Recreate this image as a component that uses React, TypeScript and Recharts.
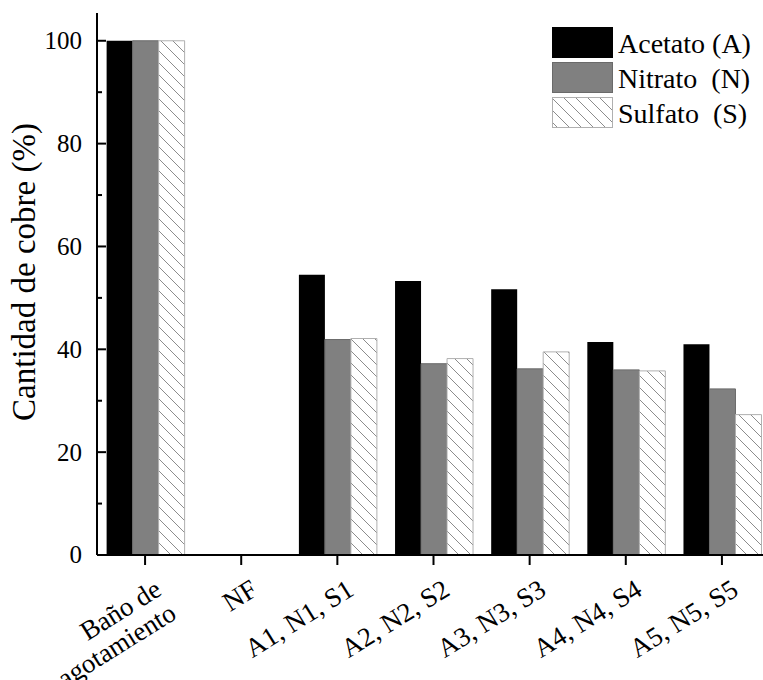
import React from "react";
import { BarChart, Bar, XAxis, YAxis, Legend } from "recharts";

const categories = [
  "Baño de\nagotamiento",
  "NF",
  "A1, N1, S1",
  "A2, N2, S2",
  "A3, N3, S3",
  "A4, N4, S4",
  "A5, N5, S5",
];
const acetato = [100, 0, 54.5, 53.3, 51.7, 41.4, 41.0];
const nitrato = [100, 0, 41.9, 37.2, 36.2, 36.0, 32.3];
const sulfato = [100, 0, 42.1, 38.2, 39.5, 35.8, 27.3];
const seriesNames = ["Acetato\u00a0(A)", "Nitrato\u00a0\u00a0(N)", "Sulfato\u00a0\u00a0(S)"];
const yTicks = [0, 10, 20, 30, 40, 50, 60, 70, 80, 90, 100];
const yTitle = "Cantidad de cobre (%)";

const data = categories.map((c, i) => ({
  cat: c,
  acetato: acetato[i],
  nitrato: nitrato[i],
  sulfato: sulfato[i],
}));

const FONT = "Liberation Serif, Times New Roman, serif";

const XTick = (props: any) => {
  const { x, y, payload } = props;
  const lines = String(payload.value).split("\n");
  return (
    <g transform={`translate(${x + 18},${y + 27})`}>
      <text transform="rotate(-32)" textAnchor="end" fontFamily={FONT} fontSize={27} fill="#000">
        {lines.map((l, i) => (
          <tspan key={i} x={0} dy={i === 0 ? 0 : 28}>
            {l}
          </tspan>
        ))}
      </text>
    </g>
  );
};

const YTick = (props: any) => {
  const { x, y, payload } = props;
  const major = payload.value % 20 === 0;
  return (
    <g>
      <line x1={x} x2={x + (major ? 9 : 5)} y1={y} y2={y} stroke="#000" strokeWidth={2} />
      {major && (
        <text x={x - 15} y={y + 8.4} textAnchor="end" fontFamily={FONT} fontSize={25} fill="#000">
          {payload.value}
        </text>
      )}
    </g>
  );
};

const YTitle = (props: any) => {
  const vb = props.viewBox || {};
  const cx = 35;
  const cy = vb.y + vb.height / 2 - 12;
  return (
    <text
      x={cx}
      y={cy}
      transform={`rotate(-90, ${cx}, ${cy})`}
      textAnchor="middle"
      fontFamily={FONT}
      fontSize={33}
      fill="#000"
    >
      {yTitle}
    </text>
  );
};

const swatchFills = ["#000000", "#808080", "url(#hatchLegend)"];
const swatchStrokes = ["#000000", "#6a6a6a", "#b0b0b0"];

const LegendContent = () => (
  <svg width={215} height={110} style={{ display: "block" }}>
    <defs>
      <pattern id="hatchLegend" patternUnits="userSpaceOnUse" width={12} height={12}>
        <rect width={12} height={12} fill="#fff" />
        <path d="M0,0 L12,12 M-1,11 L1,13 M11,-1 L13,1" stroke="#8c8c8c" strokeWidth={1} />
      </pattern>
    </defs>
    {seriesNames.map((n, i) => (
      <g key={n}>
        <rect x={4.5} y={5.5 + 35 * i} width={60} height={30} fill={swatchFills[i]} stroke={swatchStrokes[i]} strokeWidth={1} />
        <text x={70} y={31 + 35 * i} fontFamily={FONT} fontSize={28} fill="#000">
          {n}
        </text>
      </g>
    ))}
  </svg>
);

export default function App() {
  return (
    <div
      style={{
        position: "absolute",
        left: 0,
        top: 0,
        width: 763,
        height: 680,
        overflow: "hidden",
        background: "#fff",
      }}
    >
      <BarChart
        width={800}
        height={680}
        data={data}
        margin={{ top: 13, right: 30, bottom: 65, left: 37 }}
        barGap={0}
        barCategoryGap="10%"
      >
        <defs>
          <pattern id="hatchBar" patternUnits="userSpaceOnUse" width={12} height={12}>
            <rect width={12} height={12} fill="#fff" />
            <path d="M0,0 L12,12 M-1,11 L1,13 M11,-1 L13,1" stroke="#8c8c8c" strokeWidth={1} />
          </pattern>
        </defs>
        <XAxis
          dataKey="cat"
          interval={0}
          tickSize={10}
          tickMargin={2}
          tick={<XTick />}
          axisLine={{ stroke: "#000", strokeWidth: 2 }}
          tickLine={{ stroke: "#000", strokeWidth: 2 }}
          height={60}
        />
        <XAxis
          xAxisId="top"
          dataKey="cat"
          orientation="top"
          height={0}
          tick={false}
          tickLine={false}
          axisLine={{ stroke: "#000", strokeWidth: 2 }}
        />
        <YAxis
          domain={[0, 105.4]}
          ticks={yTicks}
          interval={0}
          width={60}
          tickSize={0}
          tickMargin={0}
          tickLine={false}
          tick={<YTick />}
          axisLine={{ stroke: "#000", strokeWidth: 2 }}
          label={<YTitle />}
          allowDataOverflow
        />
        <YAxis
          yAxisId="right"
          orientation="right"
          domain={[0, 105.4]}
          width={0}
          tick={false}
          tickLine={false}
          axisLine={{ stroke: "#000", strokeWidth: 2 }}
        />
        <Legend
          layout="vertical"
          align="center"
          verticalAlign="middle"
          content={<LegendContent />}
          wrapperStyle={{ position: "absolute", left: 548, top: 22, width: 215, height: 110 }}
        />
        <Bar dataKey="acetato" name={seriesNames[0]} fill="#000000" isAnimationActive={false} />
        <Bar dataKey="nitrato" name={seriesNames[1]} fill="#808080" stroke="#6a6a6a" strokeWidth={1} isAnimationActive={false} />
        <Bar dataKey="sulfato" name={seriesNames[2]} fill="url(#hatchBar)" stroke="#b0b0b0" strokeWidth={1} isAnimationActive={false} />
      </BarChart>
    </div>
  );
}
